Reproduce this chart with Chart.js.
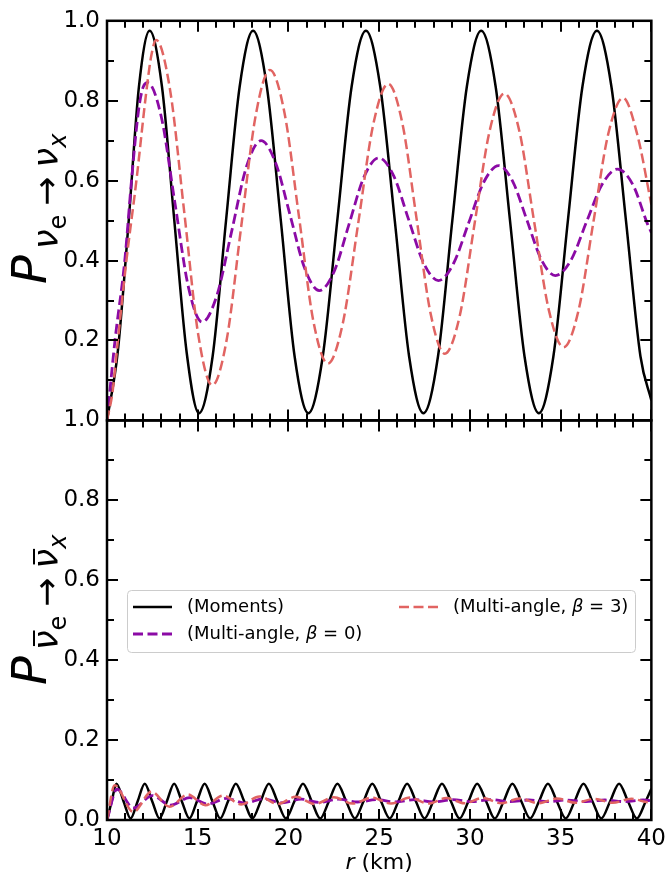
<!DOCTYPE html>
<html lang="en">
<head>
<meta charset="UTF-8">
<title>Flavor conversion probability vs radius</title>
<script src="https://cdn.jsdelivr.net/npm/chart.js"></script>
<style>
  body { margin: 0; background: #fff; }
  .wrap { width: 671px; height: 876px; position: relative; }
</style>
</head>
<body>
<div class="wrap"><canvas id="probChart"></canvas></div>
<script>
// ---- data (r in km) ----
// top panel: P(nu_e -> nu_x)
const rMomTop = [10.0, 10.59, 11.18, 11.76, 12.35, 13.03, 13.71, 14.39, 15.07, 15.82, 16.56, 17.31, 18.05, 18.81, 19.58, 20.34, 21.1, 21.89, 22.69, 23.48, 24.27, 25.06, 25.86, 26.65, 27.44, 28.24, 29.03, 29.83, 30.62, 31.42, 32.21, 33.01, 33.8, 34.6, 35.4, 36.2, 37.0, 37.8, 38.6, 39.4, 40.0];
const pMomTop = [0.0, 0.17, 0.49, 0.835, 0.975, 0.835, 0.5, 0.17, 0.018, 0.16, 0.5, 0.835, 0.975, 0.835, 0.5, 0.16, 0.018, 0.16, 0.5, 0.835, 0.975, 0.835, 0.5, 0.16, 0.018, 0.16, 0.5, 0.835, 0.975, 0.835, 0.5, 0.16, 0.018, 0.16, 0.5, 0.835, 0.975, 0.835, 0.5, 0.16, 0.05];

const rB0Top = [10.0, 10.44, 10.98, 11.35, 11.75, 12.0, 12.24, 13.0, 13.74, 14.49, 15.24, 16.05, 16.87, 17.68, 18.49, 19.29, 20.1, 20.9, 21.7, 22.52, 23.34, 24.16, 24.98, 25.8, 26.62, 27.44, 28.26, 29.09, 29.93, 30.76, 31.59, 32.37, 33.15, 33.93, 34.71, 35.57, 36.42, 37.28, 38.13, 38.98, 39.8, 40.0];
const pB0Top = [0.0, 0.2, 0.4, 0.6, 0.78, 0.835, 0.845, 0.758, 0.545, 0.333, 0.246, 0.312, 0.473, 0.634, 0.70, 0.645, 0.512, 0.38, 0.325, 0.373, 0.491, 0.609, 0.657, 0.612, 0.503, 0.395, 0.35, 0.392, 0.494, 0.596, 0.6375, 0.597, 0.5, 0.403, 0.3625, 0.401, 0.496, 0.59, 0.629, 0.59, 0.49, 0.47];

const rB3Top = [10.0, 10.3, 10.6, 11.07, 11.62, 12.16, 12.45, 12.71, 13.48, 14.26, 15.03, 15.8, 16.6, 17.39, 18.19, 18.98, 19.78, 20.58, 21.37, 22.17, 23.0, 23.84, 24.67, 25.5, 26.28, 27.06, 27.84, 28.62, 29.44, 30.26, 31.08, 31.9, 32.72, 33.53, 34.35, 35.16, 35.98, 36.8, 37.62, 38.44, 39.22, 40.0];
const pB3Top = [0.0, 0.07, 0.2, 0.4, 0.6, 0.82, 0.915, 0.952, 0.826, 0.52, 0.214, 0.088, 0.203, 0.483, 0.762, 0.877, 0.77, 0.51, 0.249, 0.142, 0.244, 0.492, 0.74, 0.842, 0.743, 0.505, 0.266, 0.167, 0.262, 0.493, 0.723, 0.818, 0.725, 0.5, 0.276, 0.183, 0.274, 0.495, 0.716, 0.807, 0.716, 0.54];

// bottom panel: P(anti-nu_e -> anti-nu_x)
const rMomBot = [10.0, 10.26, 10.52, 10.91, 11.3, 11.69, 12.08, 12.49, 12.89, 13.3, 13.7, 14.12, 14.54, 14.96, 15.38, 15.81, 16.24, 16.67, 17.1, 17.56, 18.01, 18.47, 18.92, 19.39, 19.86, 20.33, 20.8, 21.28, 21.75, 22.23, 22.7, 23.18, 23.66, 24.14, 24.62, 25.1, 25.58, 26.06, 26.54, 27.02, 27.5, 27.98, 28.46, 28.95, 29.43, 29.92, 30.4, 30.89, 31.37, 31.86, 32.34, 32.83, 33.32, 33.81, 34.3, 34.79, 35.28, 35.77, 36.26, 36.75, 37.24, 37.73, 38.22, 38.71, 39.2, 39.69, 40.0];
const pMomBot = [0.0,
  0.047, 0.091, 0.047, 0.004, 0.047, 0.091, 0.047, 0.004,
  0.047, 0.091, 0.047, 0.004, 0.047, 0.091, 0.047, 0.004,
  0.047, 0.091, 0.047, 0.004, 0.047, 0.091, 0.047, 0.004,
  0.047, 0.091, 0.047, 0.004, 0.047, 0.091, 0.047, 0.004,
  0.047, 0.091, 0.047, 0.004, 0.047, 0.091, 0.047, 0.004,
  0.047, 0.091, 0.047, 0.004, 0.047, 0.091, 0.047, 0.004,
  0.047, 0.091, 0.047, 0.004, 0.047, 0.091, 0.047, 0.004,
  0.047, 0.091, 0.047, 0.004, 0.047, 0.091, 0.047, 0.004,
  0.047, 0.078];

const rB0Bot = [10.0, 10.55, 11.45, 12.5, 13.5, 14.55, 15.55, 16.6, 17.6, 18.6, 19.65, 20.7, 21.7, 22.75, 23.8, 24.85, 25.9, 26.95, 28.0, 29.05, 30.1, 31.15, 32.2, 33.25, 34.3, 35.35, 36.4, 37.45, 38.5, 39.55, 40.0];
const pB0Bot = [0.0, 0.077, 0.03, 0.061, 0.037, 0.056, 0.04, 0.054, 0.042, 0.053, 0.043, 0.052, 0.044, 0.052, 0.045, 0.051, 0.045, 0.051, 0.045, 0.051, 0.046, 0.051, 0.046, 0.05, 0.046, 0.05, 0.046, 0.05, 0.046, 0.05, 0.048];

const rB3Bot = [10.0, 10.42, 11.45, 12.45, 13.45, 14.45, 15.42, 16.4, 17.4, 18.4, 19.4, 20.4, 21.45, 22.5, 23.55, 24.6, 25.65, 26.7, 27.7, 28.7, 29.7, 30.7, 31.72, 32.75, 33.77, 34.8, 35.82, 36.85, 37.87, 38.9, 39.9, 40.0];
const pB3Bot = [0.0, 0.087, 0.02, 0.071, 0.033, 0.064, 0.037, 0.061, 0.039, 0.059, 0.04, 0.058, 0.04, 0.057, 0.041, 0.056, 0.041, 0.056, 0.041, 0.055, 0.042, 0.055, 0.042, 0.054, 0.042, 0.054, 0.043, 0.053, 0.043, 0.053, 0.044, 0.044];

const seriesLabels = ['(Moments)', '(Multi-angle, β = 0)', '(Multi-angle, β = 3)'];
const xTicksMin = 10, xTicksMax = 40;

const FONT = '"DejaVu Sans"';
const PURPLE = '#8b0aa5';
const CORAL = '#e16462';

function pts(xs, ys) {
    return xs.map((x, i) => ({ x: x, y: ys[i] }));
}

function line(label, data, axis, color, dash, width, order) {
    return {
        label: label,
        data: data,
        yAxisID: axis,
        borderColor: color,
        borderDash: dash,
        borderWidth: width,
        pointRadius: 0,
        fill: false,
        cubicInterpolationMode: 'monotone',
        order: order
    };
}

// inward ticks + frames on both panels
const frameTicks = {
    id: 'frameTicks',
    afterDatasetsDraw(chart) {
        const ctx = chart.ctx;
        const xs = chart.scales.x, yt = chart.scales.yTop, yb = chart.scales.yBot;
        const L = chart.chartArea.left, R = chart.chartArea.right;
        ctx.save();
        ctx.strokeStyle = '#000';
        ctx.lineWidth = 2;
        for (let v = xTicksMin; v <= xTicksMax; v++) {
            const px = Math.round(xs.getPixelForValue(v));
            const len = v % 5 === 0 ? 11 : 7;
            [[yt.top, 1], [yt.bottom, -1], [yb.top, 1], [yb.bottom, -1]].forEach(([y0, d]) => {
                ctx.beginPath();
                ctx.moveTo(px, y0);
                ctx.lineTo(px, y0 + d * len);
                ctx.stroke();
            });
        }
        [yt, yb].forEach(s => {
            for (let i = 0; i <= 10; i++) {
                const py = Math.round(s.getPixelForValue(i / 10));
                const len = i % 2 === 0 ? 11 : 7;
                ctx.beginPath();
                ctx.moveTo(L, py); ctx.lineTo(L + len, py);
                ctx.moveTo(R, py); ctx.lineTo(R - len, py);
                ctx.stroke();
            }
        });
        ctx.lineWidth = 2.5;
        [yt, yb].forEach(s => ctx.strokeRect(L, s.top, R - L, s.bottom - s.top));
        ctx.restore();
    }
};

// rotated "P_{nu_e -> nu_x}" label, mathtext-like spacing
function drawPLabel(ctx, bx, by, bar) {
    const parts = [
        ['P', 'italic 48px', 0, 0, 6],
        ['ν', 'italic 35px', 12, 0, 0],
        ['e', '24px', 20, 0, 0],
        ['→', '35px', 12, 9, 9],
        ['ν', 'italic 35px', 12, 0, 0],
        ['x', 'italic 24px', 20, 0, 0]
    ];
    ctx.save();
    ctx.translate(bx, by);
    ctx.rotate(-Math.PI / 2);
    ctx.fillStyle = '#000';
    ctx.textBaseline = 'alphabetic';
    let x = 0;
    parts.forEach(([t, f, dy, before, after]) => {
        ctx.font = f + ' ' + FONT;
        x += before;
        ctx.fillText(t, x, dy);
        const w = ctx.measureText(t).width;
        if (bar && t === 'ν') ctx.fillRect(x + 4, dy - 25, w - 4, 2);
        x += w + after;
    });
    ctx.restore();
}

const titles = {
    id: 'titles',
    afterDraw(chart) {
        const ctx = chart.ctx;
        drawPLabel(ctx, 46, 284, false);
        drawPLabel(ctx, 46, 685, true);
        ctx.save();
        ctx.fillStyle = '#000';
        ctx.textBaseline = 'alphabetic';
        const f1 = 'italic 22px ' + FONT, f2 = '22px ' + FONT;
        ctx.font = f1; const w1 = ctx.measureText('r').width;
        ctx.font = f2; const w2 = ctx.measureText(' (km)').width;
        const x0 = (chart.chartArea.left + chart.chartArea.right) / 2 - (w1 + w2) / 2;
        ctx.font = f1; ctx.fillText('r', x0, 869);
        ctx.font = f2; ctx.fillText(' (km)', x0 + w1, 869);
        ctx.restore();
    }
};

function drawLegendText(ctx, text, x, y) {
    const pieces = text.split('β');
    ctx.font = '18px ' + FONT;
    ctx.fillText(pieces[0], x, y);
    if (pieces.length > 1) {
        x += ctx.measureText(pieces[0]).width;
        ctx.font = 'italic 18px ' + FONT;
        ctx.fillText('β', x, y);
        x += ctx.measureText('β').width;
        ctx.font = '18px ' + FONT;
        ctx.fillText(pieces[1], x, y);
    }
}

const legendBox = {
    id: 'legendBox',
    afterDraw(chart) {
        const ctx = chart.ctx;
        const ds = chart.data.datasets;
        ctx.save();
        ctx.fillStyle = 'rgba(255,255,255,0.8)';
        ctx.strokeStyle = '#cccccc';
        ctx.lineWidth = 1;
        ctx.beginPath();
        ctx.roundRect(127.5, 590.5, 508, 62, 4);
        ctx.fill();
        ctx.stroke();
        const items = [[0, 133, 607], [1, 133, 634], [2, 399, 607]];
        items.forEach(([i, x, y]) => {
            const d = ds[i];
            ctx.strokeStyle = d.borderColor;
            ctx.lineWidth = d.borderWidth;
            ctx.setLineDash(d.borderDash || []);
            ctx.beginPath();
            ctx.moveTo(x, y);
            ctx.lineTo(x + 39, y);
            ctx.stroke();
            ctx.setLineDash([]);
            ctx.fillStyle = '#000';
            ctx.textBaseline = 'middle';
            drawLegendText(ctx, d.label, x + 54, y);
        });
        ctx.restore();
    }
};

const tickFont = { family: 'DejaVu Sans', size: 23 };

new Chart(document.getElementById('probChart'), {
    type: 'line',
    data: {
        datasets: [
            line(seriesLabels[0], pts(rMomTop, pMomTop), 'yTop', '#000000', [], 2.5, 3),
            line(seriesLabels[1], pts(rB0Top, pB0Top), 'yTop', PURPLE, [10, 4.5], 2.8, 2),
            line(seriesLabels[2], pts(rB3Top, pB3Top), 'yTop', CORAL, [10, 4.5], 2.5, 1),
            line(seriesLabels[0], pts(rMomBot, pMomBot), 'yBot', '#000000', [], 2.5, 3),
            line(seriesLabels[1], pts(rB0Bot, pB0Bot), 'yBot', PURPLE, [10, 4.5], 2.8, 2),
            line(seriesLabels[2], pts(rB3Bot, pB3Bot), 'yBot', CORAL, [10, 4.5], 2.5, 1)
        ]
    },
    options: {
        responsive: true,
        maintainAspectRatio: false,
        animation: false,
        layout: { padding: { left: 0, right: 14, top: 20, bottom: 0 }, autoPadding: false },
        plugins: { legend: { display: false }, tooltip: { enabled: false } },
        scales: {
            x: {
                type: 'linear',
                min: xTicksMin,
                max: xTicksMax,
                grid: { display: false, drawTicks: false },
                border: { display: false },
                ticks: { stepSize: 5, font: tickFont, color: '#000', padding: 5, maxRotation: 0 },
                afterFit: s => { s.height = 56; }
            },
            // the later-listed axis of a left stack is placed on top
            yBot: {
                type: 'linear',
                position: 'left',
                stack: 'p',
                stackWeight: 1,
                min: 0,
                max: 1,
                grid: { display: false, drawTicks: false },
                border: { display: false },
                ticks: { stepSize: 0.2, font: tickFont, color: '#000', padding: 7,
                         callback: v => v.toFixed(1) },
                afterFit: s => { s.width = 107; }
            },
            yTop: {
                type: 'linear',
                position: 'left',
                stack: 'p',
                stackWeight: 1,
                min: 0,
                max: 1,
                grid: { display: false, drawTicks: false },
                border: { display: false },
                ticks: { stepSize: 0.2, font: tickFont, color: '#000', padding: 7,
                         callback: v => (Math.abs(v) < 1e-9 ? '' : v.toFixed(1)) },
                afterFit: s => { s.width = 107; }
            }
        }
    },
    plugins: [frameTicks, titles, legendBox]
});
</script>
</body>
</html>
